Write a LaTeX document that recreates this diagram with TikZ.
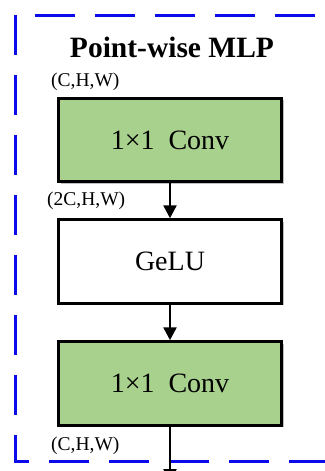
\documentclass[tikz,border=0pt]{standalone}
\usepackage{fontspec}
\setmainfont{Liberation Serif}
\usetikzlibrary{arrows.meta,shadows}
\definecolor{convgreen}{RGB}{169,209,142}
\definecolor{dashblue}{RGB}{10,10,235}
\begin{document}
\begin{tikzpicture}[x=1pt,y=-1pt,
  blk/.style={draw=black,line width=3pt,minimum width=223pt,minimum height=83.5pt,
    inner sep=0pt,font=\fontsize{28}{30}\selectfont,
    drop shadow={opacity=0.25,shadow xshift=2pt,shadow yshift=-2pt,fill=black}},
  conv/.style={blk,fill=convgreen},
  act/.style={blk,fill=white},
  shapelbl/.style={anchor=west,inner sep=0pt,font=\fontsize{19.5}{21}\selectfont},
  arr/.style={line width=2.5pt,-{Triangle[length=13pt,width=13pt]}},
  frame/.style={draw=dashblue,line width=3pt,dash pattern=on 40pt off 20pt}]
\useasboundingbox (0,0) rectangle (324,471);
\fill[white] (0,0) rectangle (324,471);
% dashed frame
\draw[frame] (15,15) -- (15,461) -- (420,461);
\draw[frame,dash phase=40pt] (15,15) -- (420,15);
% title
\node[anchor=base,inner sep=0pt,font=\fontsize{29.5}{31}\selectfont\bfseries] (title) at (172,57) {Point-wise MLP};
% blocks
\node[conv] (c1) at (170,140) {1×1\ \ Conv};
\node[act] (g) at (170,261.5) {GeLU};
\node[conv] (c2) at (170,383.5) {1×1\ \ Conv};
% labels
\node[shapelbl] (l1) at (51,82) {(C,H,W)};
\node[shapelbl] (l2) at (47,201) {(2C,H,W)};
\node[shapelbl] (l3) at (51,446) {(C,H,W)};
% connectors
\coordinate (out) at (170,482);
\draw[arr] (c1.south) -- (g.north);
\draw[arr] (g.south) -- (c2.north);
\draw[arr] (c2.south) -- (out);
\end{tikzpicture}
\end{document}
